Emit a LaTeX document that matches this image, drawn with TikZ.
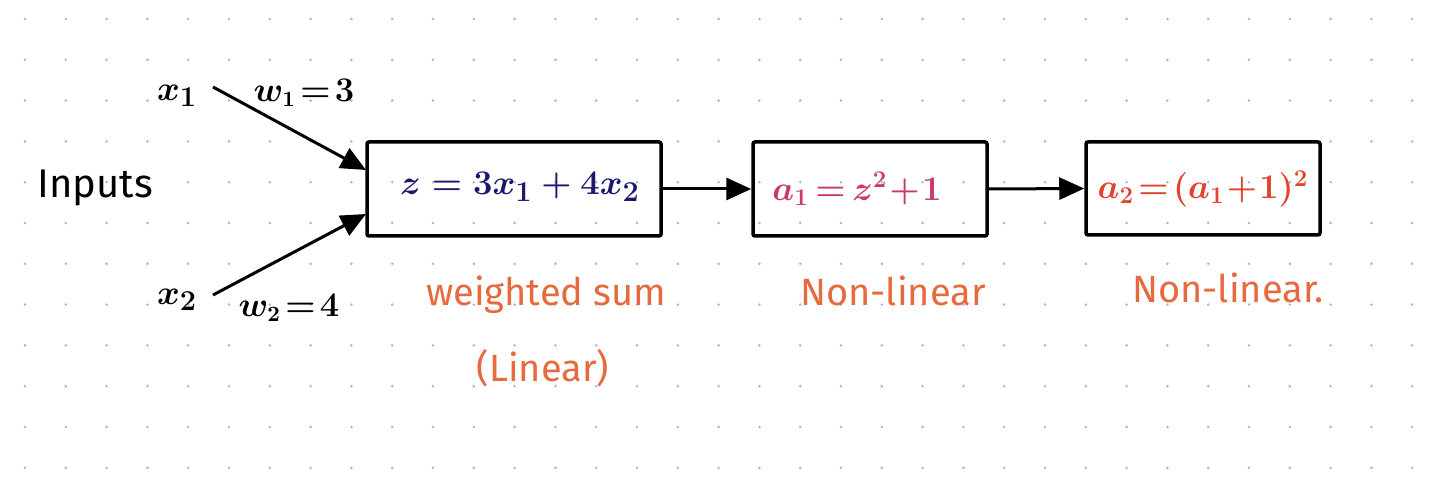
\documentclass[tikz,border=0pt]{standalone}
\usepackage{fontspec}
\setmainfont{Fira Sans}
\usetikzlibrary{arrows.meta}
\definecolor{navy}{RGB}{28,24,112}
\definecolor{pinkred}{RGB}{200,58,108}
\definecolor{redor}{RGB}{226,66,46}
\definecolor{orangelab}{RGB}{230,106,62}
\definecolor{griddot}{RGB}{165,180,215}
\begin{document}
\begin{tikzpicture}[x=0.5pt,y=-0.5pt,
  box/.style={draw=black, line width=1.75pt, rounded corners=1pt, minimum height=47pt, inner sep=0pt},
  conn/.style={line width=1.5pt, -{Triangle[length=12.5pt,width=11pt]}},
  lab/.style={text=black, inner sep=0pt, font=\fontsize{19}{22}\selectfont},
  note/.style={text=orangelab, inner sep=0pt, font=\fontsize{19}{22}\selectfont},
  formula/.style={inner sep=0pt},
]
\useasboundingbox (0,0) rectangle (1452,502);
\fill[white] (0,0) rectangle (1452,502);
\foreach \i in {0,...,34} \foreach \j in {0,...,11} \fill[griddot] ({25+40.8*\i},{19+40.8*\j}) circle (0.7pt);

% boxes
\node[box, minimum width=147pt] (b1) at (514,189) {};
\node[box, minimum width=117pt] (b2) at (870,189) {};
\node[box, minimum width=117pt, minimum height=46.5pt] (b3) at (1203,188.5) {};

% formulas
\node[formula, text=navy, font=\fontsize{19}{23}\selectfont\boldmath] (f1) at (520,187) {$z = 3x_1 + 4x_2$};
\node[formula, text=pinkred, font=\fontsize{18}{22}\selectfont\boldmath] (f2) at (857,189) {$\thickmuskip=3mu\medmuskip=1mu a_1 = z^2 + 1$};
\node[formula, text=redor, font=\fontsize{17}{21}\selectfont\boldmath] (f3) at (1203,189) {$\thickmuskip=2mu\medmuskip=1mu a_2 = (a_1 + 1)^2$};

% inputs
\node[lab, font=\fontsize{20}{24}\selectfont] (inputs) at (95,188) {Inputs};
\node[lab, font=\fontsize{19}{23}\selectfont\boldmath] (x1) at (177,96) {$x_1$};
\node[lab, font=\fontsize{19}{23}\selectfont\boldmath] (x2) at (177,300) {$x_2$};
\node[lab, font=\fontsize{16}{20}\selectfont\boldmath] (w1) at (304,93) {$\thickmuskip=2mu w_1 = 3$};
\node[lab, font=\fontsize{16}{20}\selectfont\boldmath] (w2) at (289,308) {$\thickmuskip=2mu w_2 = 4$};

\coordinate (s1) at (213,87);
\coordinate (s2) at (213,295);
\coordinate (e1) at (366,170);
\coordinate (e2) at (366,214);
\draw[conn] (s1) -- (e1);
\draw[conn] (s2) -- (e2);

% chain
\draw[conn] (b1.east) -- (b2.west);
\draw[conn] (b2.east) -- (b3.west);

% notes
\node[note] (n1) at (546,295) {weighted sum};
\node[note] (n1b) at (543,368) {(Linear)};
\node[note] (n2) at (893,291) {Non-linear};
\node[note] (n3) at (1228,288) {Non-linear.};
\end{tikzpicture}
\end{document}
